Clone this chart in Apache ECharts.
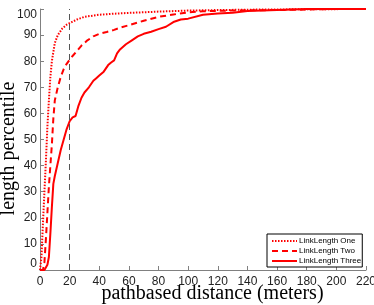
<!DOCTYPE html>
<html><head><meta charset="utf-8">
<script src="https://cdn.jsdelivr.net/npm/echarts@6/dist/echarts.min.js"></script>
<style>html,body{margin:0;padding:0;background:#fff}#c{width:374px;height:305px}</style>
</head><body><div id="c"></div>
<script>
const seriesNames = ['LinkLength One', 'LinkLength Two', 'LinkLength Three'];
const oneX = [0,1,2,3,4,5,6,7,8,10,12,15,18,20,25,30,40,50,60,80,100,120,150,180,220];
const oneY = [0,5,18,30,42,55,65,74,80,87,90,92.5,94,94.6,96,97,97.8,98.2,98.5,99,99.4,99.6,99.8,99.9,100];
const twoX = [0,2,3,4,5,6,7,8,9,10,12,14,16,18,20,22,25,28,32,36,40,45,50,55,60,70,80,90,100,110,120,140,160,180,200,220];
const twoY = [0,0,3,12,22,32,40,48,58,65,70,74,77,79,80.6,82,84,86,88,89.5,90.5,91.2,92,93,93.8,95.5,97,97.9,98.7,99.1,99.3,99.5,99.6,99.8,100,100];
const threeX = [0,3,4,5,6,7,8,9,10,12,14,16,18,20,22,24,26,28,30,33,36,38,40,43,46,48,50,52,54,58,62,66,70,75,80,85,90,95,100,110,120,130,140,150,160,170,180,190,200,210,220];
const threeY = [0,0,0.5,2,5,14,24,33,36,41,46,50,54,57,58.5,59,63,66,68,70,72.5,73.5,74.5,76,78.5,79.5,80.3,83,84.5,86.5,88,89.5,90.5,91.3,92.3,93.2,95,96,96.3,97.8,98.3,98.6,99.2,99.4,99.6,99.8,100,100,100,100,100];
const refX = 20;
const xTicks = {min: 0, max: 220, interval: 20};
const yTicks = {min: 0, max: 100, interval: 10};

const zip = (xs, ys) => xs.map((x, i) => [x, ys[i]]);
const red = '#ff0000';
const chart = echarts.init(document.getElementById('c'), null, {renderer: 'canvas'});
chart.setOption({
  animation: false,
  backgroundColor: '#fff',
  grid: {left: 40, top: 9, width: 326, height: 261, containLabel: false, outerBoundsMode: 'none'},
  xAxis: {
    type: 'value', min: xTicks.min, max: xTicks.max, interval: xTicks.interval,
    name: 'pathbased distance (meters)', nameLocation: 'middle', nameGap: 14, nameMoveOverlap: false,
    nameTextStyle: {fontFamily: 'Liberation Serif', fontSize: 20, color: '#000', padding: [0, 0, 0, 19]},
    axisLine: {lineStyle: {color: '#808080', width: 1}},
    axisTick: {inside: true, length: 4, lineStyle: {color: '#808080'}},
    axisLabel: {fontFamily: 'Liberation Sans', fontSize: 12, color: '#222', margin: 6},
    splitLine: {show: false}
  },
  yAxis: {
    type: 'value', min: yTicks.min, max: yTicks.max, interval: yTicks.interval,
    name: 'length percentile', nameLocation: 'middle', nameGap: 21, nameMoveOverlap: false,
    nameTextStyle: {fontFamily: 'Liberation Serif', fontSize: 20, color: '#000', padding: [0, 18, 0, 0]},
    axisLine: {lineStyle: {color: '#808080', width: 1}},
    axisTick: {inside: true, length: 4, lineStyle: {color: '#808080'}},
    axisLabel: {fontFamily: 'Liberation Sans', fontSize: 12, color: '#222', margin: 3,
      verticalAlignMinLabel: 'bottom', verticalAlignMaxLabel: 'top'},
    splitLine: {show: false}
  },
  legend: {
    orient: 'vertical', left: 267, top: 234,
    data: seriesNames,
    itemWidth: 25, itemHeight: 8, itemGap: 2,
    padding: [3, 1, 2, 4],
    borderColor: '#000', borderWidth: 1, backgroundColor: '#fff',
    itemStyle: {opacity: 0},
    textStyle: {fontFamily: 'Liberation Sans', fontSize: 8, color: '#000', padding: [0, 0, 0, -3]}
  },
  series: [
    {name: seriesNames[0], type: 'line', data: zip(oneX, oneY), symbol: 'none',
      lineStyle: {color: red, width: 2, type: [1.5, 1.5]}, itemStyle: {color: red},
      markLine: {silent: true, symbol: 'none', label: {show: false},
        lineStyle: {color: '#555', type: [6, 4], width: 1}, data: [{xAxis: refX}]}},
    {name: seriesNames[1], type: 'line', data: zip(twoX, twoY), symbol: 'none',
      lineStyle: {color: red, width: 2, type: [6, 4]}, itemStyle: {color: red}},
    {name: seriesNames[2], type: 'line', data: zip(threeX, threeY), symbol: 'none',
      lineStyle: {color: red, width: 2, type: 'solid'}, itemStyle: {color: red}}
  ]
});
</script></body></html>
